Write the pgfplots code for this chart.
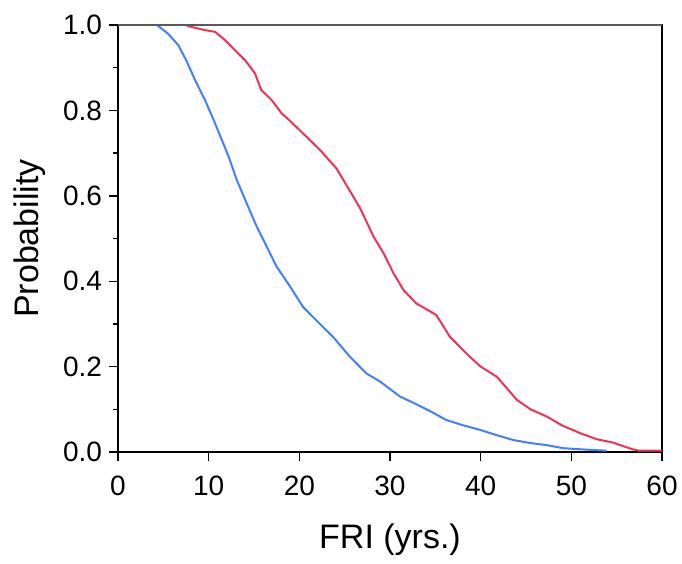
\documentclass[border=0pt]{standalone}
\usepackage{fontspec}
\setmainfont{Liberation Sans}
\usepackage{pgfplots}
\pgfplotsset{compat=1.18}
\definecolor{cblue}{RGB}{64,128,255}
\definecolor{cred}{RGB}{238,52,86}
\begin{document}
\begin{tikzpicture}
\begin{axis}[
  scale only axis,
  width=272pt, height=213.5pt,
  xmin=0, xmax=60, ymin=0, ymax=1,
  xtick={0,10,...,60},
  ytick={0,0.2,...,1.0},
  minor ytick={0.1,0.3,0.5,0.7,0.9},
  yticklabel style={/pgf/number format/fixed,/pgf/number format/fixed zerofill,/pgf/number format/precision=1},
  xticklabel style={yshift=-4pt},
  /pgf/number format/assume math mode=true,
  tick align=outside,
  major tick length=4.5pt,
  minor tick length=2.5pt,
  tick style={black, line width=0.7pt},
  xtick pos=bottom, ytick pos=left,
  axis line style={black, line width=0.8pt},
  tick label style={font=\fontsize{14}{16}\selectfont},
  label style={font=\fontsize{17}{19}\selectfont},
  xlabel={FRI (yrs.)},
  ylabel={Probability},
  xlabel style={at={(axis description cs:0.5,-0.206)}, anchor=center},
  ylabel style={at={(axis description cs:-0.162,0.5)}, anchor=center},
  clip=false,
]
\coordinate (sw) at (rel axis cs:0,0);
\coordinate (ne) at (rel axis cs:1,1);
\addplot[cblue, line width=1pt] coordinates {
(4.3,1.0) (5.5,0.98) (6.65,0.953) (7.6,0.914) (8.5,0.871) (9.6,0.824)
(10.7,0.770) (12.2,0.692) (13.1,0.637) (14.2,0.582) (15.3,0.528)
(16.4,0.481) (17.5,0.434) (19.0,0.387) (20.4,0.340) (22.6,0.293) (23.7,0.270)
(25.5,0.225) (27.4,0.184) (28.9,0.165) (31.1,0.130) (32.6,0.115) (34.5,0.095)
(36.2,0.075) (38.0,0.063) (39.9,0.052) (42.0,0.038) (43.6,0.028) (45.5,0.021)
(47.3,0.016) (49.1,0.009) (51.3,0.006) (53.9,0.003)
};
\addplot[cred, line width=1pt] coordinates {
(7.6,0.998) (9.6,0.988) (10.7,0.984) (11.8,0.965) (12.9,0.941) (14.0,0.918)
(15.1,0.887) (15.8,0.848) (16.95,0.824) (18.05,0.793) (19.0,0.775) (20.8,0.738)
(22.3,0.707) (24.1,0.664) (25.9,0.600)
(26.7,0.571) (28.2,0.504) (29.3,0.465) (30.4,0.418) (31.5,0.379) (32.9,0.348)
(35.1,0.321) (36.6,0.270) (38.8,0.223) (40.0,0.200) (41.8,0.176) (44.0,0.122)
(45.5,0.100) (47.3,0.083) (49.0,0.062) (51.0,0.044) (52.8,0.030) (54.6,0.022)
(56.8,0.006) (57.5,0.003) (60,0.003)
};
\draw[gray!70!black, line width=1.2pt] (rel axis cs:0,1) -- (rel axis cs:1,1);
\end{axis}
\pgfresetboundingbox
\useasboundingbox ([xshift=-59pt,yshift=-55.5pt]sw) rectangle ([xshift=10pt,yshift=12.5pt]ne);
\end{tikzpicture}
\end{document}
